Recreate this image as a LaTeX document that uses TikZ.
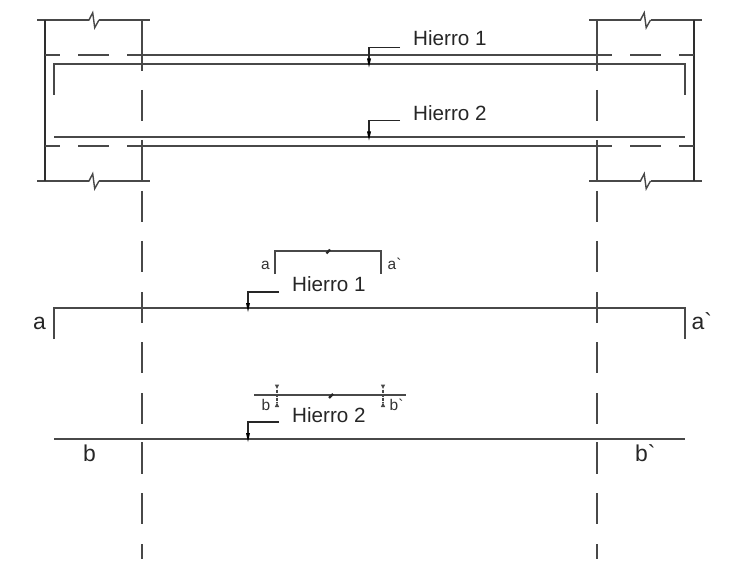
\documentclass[tikz,border=0pt]{standalone}
\usepackage{fontspec}
\newfontfamily\lsans{Liberation Sans}
\definecolor{ln}{HTML}{484848}
\definecolor{dk}{HTML}{2E2E2E}
\tikzset{
  bar/.style={draw=ln,line width=1.4bp},
  col/.style={draw=dk,line width=1.4bp},
  cent/.style={draw=ln,line width=1.4bp},
  lead/.style={draw=black!85,line width=1.4bp},
  big/.style={inner sep=0pt,anchor=base west,font=\lsans\fontsize{20.7}{21}\selectfont,text=black!85},
  lett/.style={inner sep=0pt,anchor=base west,font=\lsans\fontsize{23}{23}\selectfont,text=black!85},
  tiny/.style={inner sep=0pt,anchor=base west,font=\lsans\fontsize{15.5}{16}\selectfont,text=black!80},
  ahead/.style={fill=black,draw=none}
}
\newcommand{\breakh}[2]{\draw[bar,line join=miter] (#1-3.5,#2) -- (#1,#2) -- (#1+3.7,#2-7.3) -- (#1+5.7,#2+7.7) -- (#1+10,#2);}
\newcommand{\leader}[2]{%
  \draw[lead] (#1+31,#2) -- (#1,#2) -- (#1,#2+14);
  \fill[ahead] (#1-2,#2+11) -- (#1+2,#2+11) -- (#1,#2+20) -- cycle;}
\begin{document}
\begin{tikzpicture}[x=1bp,y=-1bp]
\useasboundingbox (0,0) rectangle (732,562);
% top lines of columns
\draw[bar] (37,20) -- (89,20); \breakh{89}{20} \draw[bar] (99,20) -- (150,20);
\draw[bar] (37,181) -- (89,181); \breakh{89}{181} \draw[bar] (99,181) -- (150,181);
\draw[bar] (589,20) -- (640.5,20); \breakh{640.5}{20} \draw[bar] (650.5,20) -- (702,20);
\draw[bar] (589,181) -- (640.5,181); \breakh{640.5}{181} \draw[bar] (650.5,181) -- (702,181);
% column outer faces
\draw[col] (45,20) -- (45,181);
\draw[col] (694,20) -- (694,181);
% centre lines
\foreach \cx in {142,597}{
  \draw[cent] (\cx,20) -- (\cx,71);
  \draw[cent] (\cx,90) -- (\cx,121);
  \draw[cent] (\cx,140) -- (\cx,181);
  \draw[cent] (\cx,191) -- (\cx,222);
  \draw[cent] (\cx,241) -- (\cx,272);
  \draw[cent] (\cx,292) -- (\cx,323);
  \draw[cent] (\cx,342) -- (\cx,373);
  \draw[cent] (\cx,393) -- (\cx,424);
  \draw[cent] (\cx,442) -- (\cx,474);
  \draw[cent] (\cx,493) -- (\cx,524);
  \draw[cent] (\cx,544) -- (\cx,559);
}
% beam faces
\foreach \ly in {55,146}{
  \draw[bar] (45,\ly) -- (60,\ly);
  \draw[bar] (78,\ly) -- (109,\ly);
  \draw[bar] (127,\ly) -- (612,\ly);
  \draw[bar] (630,\ly) -- (661,\ly);
  \draw[bar] (679,\ly) -- (694,\ly);
}
% bars in elevation
\draw[bar] (54,95) -- (54,64) -- (685,64) -- (685,95);
\draw[bar] (54,137) -- (685,137);
% separated bars
\draw[bar] (54,339) -- (54,308) -- (685,308) -- (685,339);
\draw[bar] (54,439) -- (685,439);
% leaders
\leader{369}{47.5}
\leader{369}{120.5}
\leader{248}{292}
\leader{248}{422}
% labels
\node[big] (h1t) at (413,46) {Hierro 1};
\node[big] (h2t) at (413,120.5) {Hierro 2};
\node[big] (h1b) at (292,291.5) {Hierro 1};
\node[big] (h2b) at (292,422) {Hierro 2};
\node[lett] (la) at (33,329.5) {a};
\node[lett] (lap) at (691.5,329.5) {a`};
\node[lett] (lb) at (83,461) {b};
\node[lett] (lbp) at (635,461) {b`};
% mini section a
\draw[bar] (275,274) -- (275,251) -- (381,251) -- (381,274);
\draw[lead,line width=2.2bp] (326.5,253.5) -- (330,249.5);
\node[tiny] (ma) at (261,270) {a};
\node[tiny] (map) at (387.5,270) {a`};
% mini section b
\draw[bar] (254,395) -- (406,395);
\draw[lead,line width=2.2bp] (329,398) -- (333,394);
\foreach \mx in {277,383}{
  \draw[draw=ln,line width=1.3bp,dash pattern=on 3bp off 1bp] (\mx,389.5) -- (\mx,402);
  \fill[ln] (\mx-2.2,384.5) -- (\mx+2.2,384.5) -- (\mx,389) -- cycle;
  \fill[ln] (\mx-2.2,407) -- (\mx+2.2,407) -- (\mx,402.5) -- cycle;
}
\node[tiny] (mb) at (261.5,410) {b};
\node[tiny] (mbp) at (389.5,410) {b`};
\end{tikzpicture}
\end{document}
